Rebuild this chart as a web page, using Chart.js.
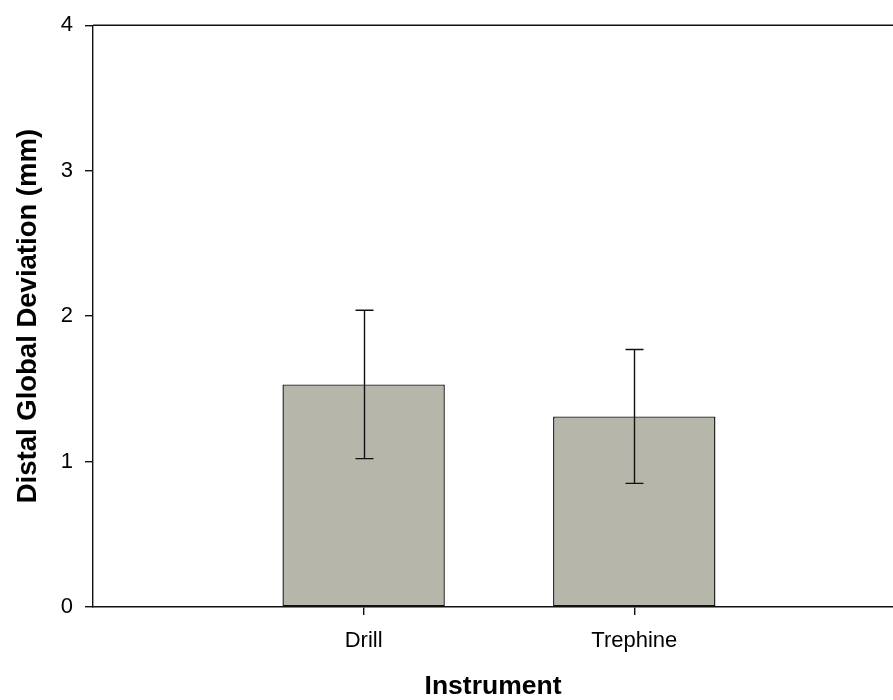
<!DOCTYPE html>
<html>
<head>
<meta charset="utf-8">
<script src="https://cdn.jsdelivr.net/npm/chart.js@4"></script>
<style>
  body { margin: 0; background: #fff; overflow: hidden; }
</style>
</head>
<body>
<canvas id="barChart" width="893" height="700"></canvas>
<script>
// values
const categories = ["Drill", "Trephine"];
const positions = [1, 2];
const means = [1.53, 1.31];
const errors = [0.51, 0.46];
const yTicks = [0, 1, 2, 3, 4];

const FONT = "'Liberation Sans', Arial, sans-serif";

// error bars with caps, drawn from the y scale
const errorBars = {
  id: "errorBars",
  afterDatasetsDraw(chart) {
    const ctx = chart.ctx;
    const y = chart.scales.y;
    const meta = chart.getDatasetMeta(0);
    ctx.save();
    ctx.strokeStyle = "#111";
    ctx.lineWidth = 1.4;
    meta.data.forEach((bar, i) => {
      const top = y.getPixelForValue(means[i] + errors[i]);
      const bot = y.getPixelForValue(means[i] - errors[i]);
      const x = Math.round(bar.x) + 0.5;
      ctx.beginPath();
      ctx.moveTo(x, top);
      ctx.lineTo(x, bot);
      ctx.moveTo(x - 9, top);
      ctx.lineTo(x + 9, top);
      ctx.moveTo(x - 9, bot);
      ctx.lineTo(x + 9, bot);
      ctx.stroke();
    });
    ctx.restore();
  }
};

// line along the top of the plot frame
const topFrame = {
  id: "topFrame",
  afterDraw(chart) {
    const { ctx, chartArea } = chart;
    ctx.save();
    ctx.strokeStyle = "#111";
    ctx.lineWidth = 1.4;
    ctx.beginPath();
    ctx.moveTo(chartArea.left, chartArea.top);
    ctx.lineTo(chartArea.right, chartArea.top);
    ctx.stroke();
    ctx.restore();
  }
};

const ctx = document.getElementById("barChart").getContext("2d");
new Chart(ctx, {
  type: "bar",
  data: {
    datasets: [{
      data: positions.map((p, i) => ({ x: p, y: means[i] })),
      backgroundColor: "#b6b6aa",
      borderColor: "#111",
      borderWidth: 1.4,
      borderSkipped: false,
      barPercentage: 0.6,
      categoryPercentage: 1
    }]
  },
  options: {
    responsive: false,
    animation: false,
    layout: { padding: { top: 23, left: 0, right: 0, bottom: 0 } },
    plugins: { legend: { display: false }, tooltip: { enabled: false } },
    scales: {
      x: {
        type: "linear",
        min: 0,
        max: 2.956,
        offset: false,
        afterBuildTicks: s => { s.ticks = positions.map(v => ({ value: v })); },
        afterFit: s => { s.height = 93; },
        ticks: {
          callback: v => categories[positions.indexOf(v)],
          color: "#000",
          font: { family: FONT, size: 22 },
          padding: 13,
          maxRotation: 0
        },
        grid: { offset: false, drawOnChartArea: false, drawTicks: true, tickLength: 8, color: "#111", lineWidth: 1.4 },
        border: { color: "#111", width: 1.4 },
        title: {
          display: true,
          text: "Instrument",
          color: "#000",
          font: { family: FONT, size: 26.5, weight: "bold", lineHeight: 1 },
          padding: { top: 0, bottom: 0 }
        }
      },
      y: {
        min: 0,
        max: 4,
        afterBuildTicks: s => { s.ticks = yTicks.map(v => ({ value: v })); },
        afterFit: s => { s.width = 93; },
        ticks: {
          color: "#000",
          font: { family: FONT, size: 22 },
          padding: 12
        },
        grid: { drawOnChartArea: false, drawTicks: true, tickLength: 8, color: "#111", lineWidth: 1.4 },
        border: { color: "#111", width: 1.4 },
        title: {
          display: true,
          text: "Distal Global Deviation (mm)",
          color: "#000",
          font: { family: FONT, size: 27.5, weight: "bold", lineHeight: 1 },
          padding: { top: 15, bottom: 0 }
        }
      }
    }
  },
  plugins: [errorBars, topFrame]
});
</script>
</body>
</html>
